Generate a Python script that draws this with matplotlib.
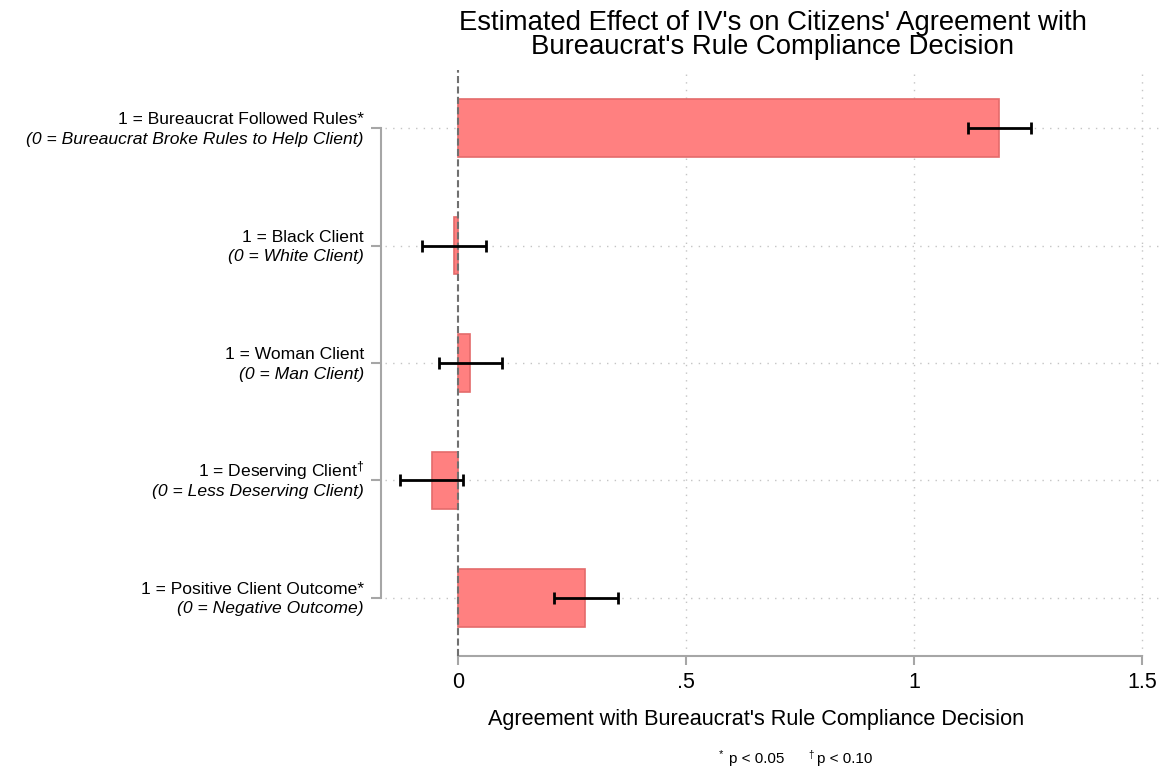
import matplotlib
matplotlib.use("Agg")
import matplotlib.pyplot as plt
import numpy as np
from matplotlib.transforms import blended_transform_factory

plt.rcParams["font.family"] = ["Liberation Sans", "DejaVu Sans"]
plt.rcParams["mathtext.fontset"] = "custom"
plt.rcParams["mathtext.rm"] = "Liberation Sans"
plt.rcParams["mathtext.it"] = "Liberation Sans:italic"
plt.rcParams["mathtext.bf"] = "Liberation Sans:bold"

# Regression estimates with 95% confidence bounds
labels_main = [
    "1 = Bureaucrat Followed Rules*",
    "1 = Black Client",
    "1 = Woman Client",
    "1 = Deserving Client$^{\\dagger}$",
    "1 = Positive Client Outcome*",
]
labels_ref = [
    "(0 = Bureaucrat Broke Rules to Help Client)",
    "(0 = White Client)",
    "(0 = Man Client)",
    "(0 = Less Deserving Client)",
    "(0 = Negative Outcome)",
]
estimates = [1.185, -0.009, 0.027, -0.058, 0.279]
ci_low = [1.117, -0.078, -0.042, -0.127, 0.210]
ci_high = [1.256, 0.061, 0.096, 0.011, 0.350]
xticks = [0, 0.5, 1, 1.5]
xtick_labels = ["0", ".5", "1", "1.5"]
title_lines = ["Estimated Effect of IV's on Citizens' Agreement with",
               "Bureaucrat's Rule Compliance Decision"]
xlabel = "Agreement with Bureaucrat's Rule Compliance Decision"

W, H = 1168, 773
fig = plt.figure(figsize=(W / 100, H / 100), dpi=100)
left_px, right_px, top_px, bottom_px = 385, 1160, 70, 656
ax = fig.add_axes([left_px / W, 1 - bottom_px / H,
                   (right_px - left_px) / W, (bottom_px - top_px) / H])

est = np.array(estimates)
lo = np.array(ci_low)
hi = np.array(ci_high)
ypos = np.arange(len(est))

ax.barh(ypos, est, height=0.49, color="#ff8080", edgecolor="#e46b6b",
        linewidth=1.2, zorder=2)
ax.errorbar(est, ypos, xerr=[est - lo, hi - est], fmt="none", ecolor="black",
            elinewidth=2, capsize=4.5, capthick=2, zorder=4)
ax.axvline(0, color="#707070", lw=1.5, ls=(0, (3.4, 1.6)), zorder=3)

ax.set_xlim(-0.16, 1.539)
ax.set_ylim(4.495, -0.495)

# Axes styling
for s in ["top", "right"]:
    ax.spines[s].set_visible(False)
ax.spines["left"].set_bounds(0, 4)
ax.spines["left"].set_position(("outward", 3))
ax.spines["bottom"].set_bounds(0, 1.5)
for s in ["left", "bottom"]:
    ax.spines[s].set_color("#a6a6a6")
    ax.spines[s].set_linewidth(1.5)

ax.set_xticks(xticks)
ax.set_xticklabels(xtick_labels, fontsize=15.5)
ax.set_yticks(ypos)
ax.set_yticklabels([])
ax.tick_params(axis="x", length=6.5, width=1.5, color="#a6a6a6", pad=5)
ax.tick_params(axis="y", length=7, width=1.5, color="#a6a6a6")

# Dotted grid
ax.grid(True, color="#c4c4c4", lw=1.0, ls=(0, (1, 4.5)), zorder=0)
ax.set_axisbelow(True)
ax.xaxis.get_gridlines()[0].set_visible(False)

# Two-line category labels: plain first line, italic reference line
trans = blended_transform_factory(ax.transAxes, ax.transData)
xlab = (364 - left_px) / (right_px - left_px)
for yi, m, r in zip(ypos, labels_main, labels_ref):
    ax.annotate(m, xy=(xlab, yi), xycoords=trans, xytext=(0, 2.7),
                textcoords="offset points", ha="right", va="baseline",
                fontsize=12.6)
    ax.annotate(r, xy=(xlab, yi), xycoords=trans, xytext=(0, -11.2),
                textcoords="offset points", ha="right", va="baseline",
                fontsize=12.6, style="italic")

# Two-line title
fig.text(772.5 / W, 1 - 29.5 / H, title_lines[0], ha="center", va="baseline",
         fontsize=19.8)
fig.text(772.5 / W, 1 - 54 / H, title_lines[1], ha="center", va="baseline",
         fontsize=19.8)

fig.text(756 / W, 1 - 725 / H, xlabel, ha="center", va="baseline", fontsize=15.6)

# Significance note
fig.text(719 / W, 1 - 757 / H, "*", ha="left", va="baseline", fontsize=8)
fig.text(729 / W, 1 - 762.7 / H, "p < 0.05", ha="left", va="baseline", fontsize=11)
fig.text(808 / W, 1 - 758 / H, "\u2020", ha="left", va="baseline", fontsize=7)
fig.text(817 / W, 1 - 762.7 / H, "p < 0.10", ha="left", va="baseline", fontsize=11)

fig.savefig("out.png", dpi=100, facecolor="white")
